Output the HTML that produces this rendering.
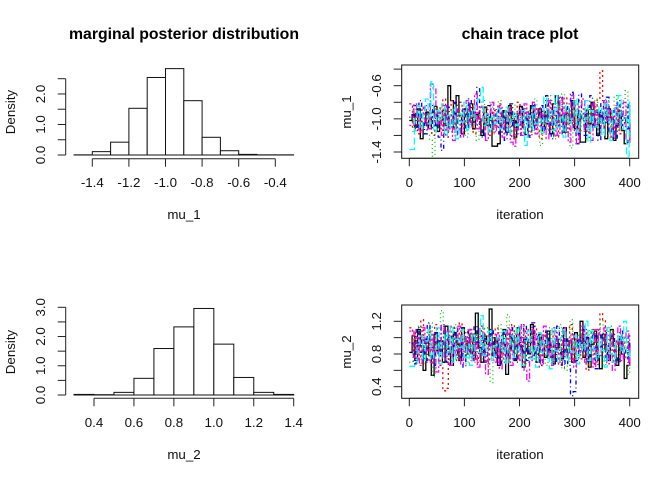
<!DOCTYPE html>
<html>
<head>
<meta charset="utf-8">
<title>MCMC diagnostics</title>
<style>
html,body{margin:0;padding:0;background:#fff;width:672px;height:480px;overflow:hidden}
svg{display:block}
text{font-family:"Liberation Sans",sans-serif;font-size:13.33px;fill:#111}
.t{font-size:15.8px;font-weight:bold;fill:#000}
</style>
</head>
<body>
<svg id="chart" width="672" height="480" viewBox="0 0 672 480" xmlns="http://www.w3.org/2000/svg"></svg>
<script>
const histBreaks1 = [-1.5,-1.4,-1.3,-1.2,-1.1,-1.0,-0.9,-0.8,-0.7,-0.6,-0.5,-0.4,-0.3];
const histDensity1 = [0.005,0.11,0.42,1.53,2.54,2.83,1.78,0.58,0.14,0.02,0.005,0.005];
const histBreaks2 = [0.3,0.4,0.5,0.6,0.7,0.8,0.9,1.0,1.1,1.2,1.3,1.4];
const histDensity2 = [0.02,0.01,0.09,0.57,1.59,2.33,2.96,1.74,0.6,0.09,0.02];
const histXTicks1 = [-1.4,-1.2,-1.0,-0.8,-0.6,-0.4];
const histXTicks2 = [0.4,0.6,0.8,1.0,1.2,1.4];
const histYTicks1 = [0,0.5,1,1.5,2,2.5];
const histYTicks2 = [0,0.5,1,1.5,2,2.5,3];
const traceXTicks = [0,100,200,300,400];
const traceYTicks1 = [-1.4,-1.2,-1.0,-0.8,-0.6,-0.4];
const traceYTicks2 = [0.4,0.6,0.8,1.0,1.2];
const iterationStep = 5;
const chainColors = ["#000000","#ff0000","#00cd00","#0000ff","#ff00ff","#00ffff"];
const chainDashes = ["","2 3","1 3","1 3 4 3","2 2 6 2","7 3"];
const chainNames = ["black","red","green","blue","magenta","cyan"];

const mu1Black = [-1.02,-0.95,-1.10,-0.88,-1.24,-1.05,-0.92,-1.12,-0.98,-0.85,-1.15,-1.02,-0.90,-1.08,-0.60,-0.78,-1.10,-0.72,-0.96,-1.18,-0.88,-1.04,-0.82,-1.12,-0.95,-1.00,-1.20,-0.86,-1.08,-0.98,-1.33,-1.33,-1.30,-1.05,-0.90,-1.16,-0.84,-1.02,-1.22,-0.94,-0.85,-1.10,-1.19,-0.96,-0.84,-1.08,-1.00,-0.88,-1.14,-0.92,-1.06,-1.18,-0.82,-0.72,-1.04,-0.96,-1.16,-0.88,-1.02,-0.78,-1.12,-0.94,-1.28,-1.28,-0.90,-1.06,-0.80,-1.10,-1.20,-0.92,-1.05,-1.24,-0.88,-1.00,-1.26,-1.08,-0.90,-1.14,-1.30,-1.28,-1.00];
const mu1Red = [-0.82,-1.12,-0.90,-1.18,-0.98,-0.84,-1.08,-0.92,-1.20,-1.02,-0.86,-1.14,-0.76,-1.22,-0.96,-0.78,-1.16,-1.00,-0.80,-1.10,-0.88,-1.06,-0.84,-1.18,-0.92,-1.02,-1.14,-0.86,-1.04,-1.20,-0.90,-1.10,-0.82,-1.16,-0.98,-1.08,-0.86,-1.24,-0.94,-0.80,-1.12,-1.00,-0.88,-1.20,-0.94,-0.84,-1.14,-1.24,-0.90,-1.06,-0.78,-1.12,-0.96,-1.22,-0.86,-1.02,-0.74,-1.16,-0.92,-1.08,-0.82,-1.18,-1.00,-0.88,-1.20,-0.94,-0.80,-1.10,-0.76,-0.42,-0.78,-1.04,-1.22,-0.90,-1.12,-0.84,-1.18,-0.96,-1.06,-0.86,-1.10];
const mu1Green = [-0.90,-1.18,-1.02,-0.86,-1.10,-0.94,-1.20,-1.26,-1.45,-1.04,-0.88,-1.12,-0.98,-0.84,-1.16,-0.92,-1.06,-1.24,-0.88,-1.02,-1.22,-0.80,-1.10,-0.94,-1.26,-0.86,-0.78,-1.12,-1.00,-0.80,-1.18,-0.92,-0.78,-1.08,-1.22,-0.90,-1.04,-0.82,-1.14,-0.96,-1.20,-0.84,-1.06,-0.90,-1.16,-0.76,-1.02,-1.32,-0.88,-1.12,-0.72,-1.00,-1.24,-0.80,-1.10,-0.70,-1.18,-0.94,-1.35,-0.86,-1.06,-0.78,-1.14,-0.98,-1.24,-0.84,-1.02,-0.76,-1.20,-0.92,-1.08,-0.74,-1.16,-0.88,-0.72,-1.12,-0.94,-0.78,-0.66,-1.04,-0.82];
const mu1Blue = [-0.98,-0.84,-1.14,-0.78,-1.04,-1.18,-0.90,-0.82,-1.10,-0.96,-1.22,-1.38,-1.00,-0.86,-1.12,-0.94,-0.80,-1.20,-1.02,-0.88,-1.14,-0.76,-1.04,-0.92,-0.62,-1.10,-1.22,-0.96,-0.84,-1.12,-1.02,-0.88,-1.18,-0.92,-1.26,-1.04,-0.82,-1.10,-0.96,-1.20,-0.86,-1.06,-0.92,-1.22,-0.80,-1.12,-0.98,-0.84,-1.16,-0.72,-1.04,-1.24,-0.90,-1.08,-0.74,-1.18,-0.94,-0.82,-0.68,-1.14,-1.30,-0.70,-1.02,-1.20,-0.86,-0.72,-1.10,-0.92,-1.26,-0.80,-1.04,-0.74,-1.18,-0.90,-1.24,-0.78,-1.08,-0.94,-1.12,-0.82,-1.26];
const mu1Magenta = [-1.08,-0.82,-0.98,-1.16,-0.86,-1.04,-1.12,-0.58,-0.64,-1.06,-0.92,-1.20,-0.84,-1.14,-0.96,-1.26,-0.88,-1.02,-1.22,-0.90,-0.78,-1.10,-0.98,-0.70,-1.12,-0.86,-1.04,-1.26,-0.92,-0.80,-1.16,-1.00,-0.84,-1.22,-1.02,-0.88,-1.28,-1.33,-1.12,-0.90,-1.20,-0.82,-1.06,-0.96,-0.80,-1.18,-0.88,-1.10,-0.94,-1.24,-0.78,-1.04,-0.86,-1.20,-0.74,-1.12,-0.92,-1.28,-0.72,-1.06,-1.30,-0.84,-0.76,-1.14,-0.98,-1.26,-0.82,-1.08,-0.94,-1.18,-0.78,-1.02,-0.90,-1.22,-0.84,-1.10,-0.96,-0.80,-1.26,-1.28,-1.12];
const mu1Cyan = [-1.37,-1.00,-0.84,-1.12,-0.92,-0.76,-1.06,-0.55,-1.16,-0.90,-1.02,-0.82,-1.20,-0.96,-1.10,-0.86,-1.24,-0.94,-1.04,-0.80,-1.14,-0.90,-1.00,-0.84,-0.76,-0.62,-1.08,-0.94,-1.16,-0.98,-1.06,-0.88,-1.12,-1.00,-0.86,-1.18,-1.00,-0.92,-1.08,-1.02,-0.90,-1.32,-0.96,-1.12,-0.86,-1.06,-1.00,-1.18,-0.74,-1.04,-0.90,-1.14,-0.72,-1.10,-0.96,-1.22,-0.84,-1.06,-1.00,-0.76,-1.16,-0.92,-1.04,-0.78,-1.28,-0.90,-1.10,-1.08,-0.86,-1.20,-0.82,-1.00,-1.26,-0.88,-1.04,-0.72,-1.12,-0.96,-1.45,-0.80,-1.06];

const mu2Black = [0.82,1.02,0.72,1.10,0.90,0.60,0.98,0.78,0.54,1.04,0.84,0.96,0.70,1.14,0.86,0.66,1.06,0.92,0.72,1.12,0.96,0.80,1.04,0.74,1.30,0.88,0.70,1.02,0.92,1.35,0.78,1.00,0.66,0.94,1.10,0.55,0.86,1.02,0.72,1.12,0.90,0.64,0.98,0.80,1.16,0.86,0.70,1.04,0.92,0.76,1.08,0.84,0.68,0.98,0.88,0.74,1.12,0.82,0.96,0.70,1.06,0.90,1.20,0.76,1.00,0.64,0.92,1.08,0.78,0.62,1.04,0.86,0.72,1.10,0.90,0.66,0.98,0.80,0.50,0.66,0.94];
const mu2Red = [1.12,0.84,1.06,0.74,1.22,0.94,0.70,1.08,0.82,1.16,0.90,0.66,0.35,0.38,0.82,1.14,0.92,0.72,1.18,0.98,0.78,1.10,0.86,1.04,0.70,0.96,1.14,0.82,0.68,1.02,0.90,1.12,0.76,0.94,0.70,1.06,0.84,1.16,0.92,0.72,1.00,0.66,1.10,0.86,0.76,1.14,0.94,0.64,1.04,0.82,0.96,0.72,1.12,0.88,0.66,1.02,0.78,0.92,1.16,0.70,0.98,0.84,0.74,1.08,0.60,0.94,1.10,0.68,1.00,1.30,1.22,0.76,0.90,1.08,0.70,0.96,0.84,1.02,0.74,0.92,0.86];
const mu2Green = [0.70,0.98,0.86,1.14,0.68,1.02,0.78,1.18,0.52,0.94,0.80,1.33,0.84,1.06,0.72,0.96,1.16,0.76,0.90,1.02,0.68,1.10,0.84,0.70,1.04,0.92,0.74,1.12,0.64,0.45,1.00,0.82,1.16,0.72,0.94,1.28,0.70,1.08,0.88,0.76,1.14,0.86,0.68,0.98,1.10,0.74,0.92,1.04,0.80,0.66,1.12,0.88,0.72,1.00,1.16,0.62,0.84,0.60,1.22,0.92,0.72,1.06,0.80,0.96,0.68,1.10,0.84,0.72,1.02,1.22,0.66,0.90,1.14,0.78,0.94,0.70,1.08,0.86,1.00,0.55,0.92];
const mu2Blue = [0.94,0.68,1.12,0.82,1.00,0.72,1.18,0.88,0.66,1.06,0.78,1.14,0.92,0.70,1.02,0.84,1.12,0.74,0.96,0.64,1.08,0.86,0.72,1.14,0.94,0.80,1.04,0.70,0.90,1.10,0.76,0.98,0.68,1.06,0.84,0.74,1.12,0.92,0.70,1.00,0.80,1.16,0.72,0.94,1.18,0.78,1.04,0.66,0.90,1.08,0.76,0.96,0.70,1.14,0.84,0.64,1.02,0.66,0.29,0.34,0.72,1.00,0.84,1.10,0.70,0.96,1.06,0.62,1.06,0.88,1.06,0.72,0.96,1.04,0.78,0.68,1.08,0.86,0.74,1.02,0.84];
const mu2Magenta = [1.08,0.76,1.00,0.66,1.12,0.84,0.96,0.70,1.04,0.58,0.90,1.16,0.74,1.08,0.66,0.92,0.78,1.14,0.68,1.00,0.84,1.10,0.72,0.94,0.64,1.12,0.80,0.55,1.02,0.88,0.70,1.06,0.62,0.96,0.76,1.12,0.66,0.90,1.04,0.74,1.16,0.60,0.47,0.72,1.10,0.86,1.00,0.68,1.14,0.78,0.94,0.66,1.08,0.82,0.70,1.12,0.92,0.74,1.04,0.64,0.98,0.82,1.14,0.70,1.02,0.86,0.64,1.10,0.78,0.96,1.12,0.68,1.04,0.60,0.92,1.14,0.72,1.00,1.08,0.66,0.88];
const mu2Cyan = [0.65,0.66,0.92,1.02,0.72,0.96,1.10,0.74,0.86,1.12,0.68,0.94,1.06,0.78,1.14,0.70,0.98,0.88,1.10,0.76,0.92,0.66,1.04,0.84,0.82,1.27,0.78,0.96,1.08,0.72,0.90,1.00,0.84,1.08,0.68,0.92,1.02,0.76,1.14,0.84,0.66,0.96,1.08,0.74,0.90,0.64,1.06,0.82,0.98,0.78,0.62,1.12,0.84,0.70,1.00,1.10,0.72,0.88,0.82,1.02,0.68,0.94,0.84,1.20,0.72,1.08,0.86,0.74,0.98,0.84,0.64,1.12,0.80,0.70,0.96,1.04,0.82,1.20,0.78,0.84,0.76];

const mu1Chains = [mu1Black,mu1Red,mu1Green,mu1Blue,mu1Magenta,mu1Cyan];
const mu2Chains = [mu2Black,mu2Red,mu2Green,mu2Blue,mu2Magenta,mu2Cyan];

const NS = "http://www.w3.org/2000/svg";
const root = document.getElementById("chart");

function add(parent, tag, attrs, txt){
  const el = document.createElementNS(NS, tag);
  for (const k in attrs) el.setAttribute(k, attrs[k]);
  if (txt !== undefined) el.textContent = txt;
  parent.appendChild(el);
  return el;
}
function makeGroup(name){
  const g = document.createElementNS(NS, "g");
  
  
  root.appendChild(g);
  return g;
}
function label(parent, name, x, y, str, rot, cls){
  const attrs = {x:x, y:y, "text-anchor":"middle"};
  if (rot) attrs.transform = "rotate(-90 " + x + " " + y + ")";
  if (cls) attrs["class"] = cls;
  const el = add(parent, "text", attrs, str);
  
  
  return el;
}
function axisLine(parent, name, x1, y1, x2, y2){
  const el = add(parent, "line", {x1:x1, y1:y1, x2:x2, y2:y2, stroke:"#222", "stroke-width":1});
  
  
  return el;
}
function scale(d0, d1, r0, r1){
  return function(v){ return r0 + (v - d0) * (r1 - r0) / (d1 - d0); };
}

function drawHist(cfg){
  const g = makeGroup(cfg.name);
  const sx = scale(cfg.xd[0], cfg.xd[1], cfg.xr[0], cfg.xr[1]);
  const sy = scale(0, cfg.yd, cfg.y0, cfg.y1);
  cfg.density.forEach(function(d, i){
    const top = sy(d);
    const r = add(g, "rect", {x:sx(cfg.breaks[i]), y:top, width:sx(cfg.breaks[i+1]) - sx(cfg.breaks[i]), height:cfg.y0 - top, fill:"#fff", stroke:"#111", "stroke-width":1});
    
    
  });
  const xt = cfg.xTicks;
  axisLine(g, "x-axis-line", sx(xt[0]), cfg.xAxisY, sx(xt[xt.length-1]), cfg.xAxisY);
  xt.forEach(function(t){
    axisLine(g, "x-axis-tick", sx(t), cfg.xAxisY, sx(t), cfg.xAxisY + 8);
    label(g, "x-tick-label", sx(t), cfg.xLabelY, t.toFixed(1), false);
  });
  const yt = cfg.yTicks;
  axisLine(g, "y-axis-line", 65.7, sy(yt[0]), 65.7, sy(yt[yt.length-1]));
  yt.forEach(function(t, i){
    axisLine(g, "y-axis-tick", 57.7, sy(t), 65.7, sy(t));
    if (i % 2 === 0) label(g, "y-tick-label", 45, sy(t), t.toFixed(1), true);
  });
  label(g, "x-axis-title", 184, cfg.xTitleY, cfg.xTitle, false);
  label(g, "y-axis-title", 15, cfg.yTitleC, "Density", true);
  if (cfg.title) label(g, "plot-title", 184, 39, cfg.title, false, "t");
}

function drawTrace(cfg){
  const g = makeGroup(cfg.name);
  const sx = scale(0, 400, 409.3, 629.7);
  const sy = scale(cfg.yRef[0], cfg.yRef[1], cfg.yPix[0], cfg.yPix[1]);
  cfg.chains.forEach(function(vals, c){
    const offset = c * iterationStep / cfg.chains.length;
    const seg = [];
    vals.forEach(function(v, i){
      const a = Math.min(400, i * iterationStep + (i === 0 ? 0 : offset));
      const b = Math.min(400, (i + 1) * iterationStep + offset);
      seg.push(sx(a).toFixed(1) + "," + sy(v).toFixed(1));
      seg.push(sx(b).toFixed(1) + "," + sy(v).toFixed(1));
    });
    const attrs = {points:seg.join(" "), fill:"none", stroke:chainColors[c], "stroke-width":1.3};
    if (chainDashes[c]) attrs["stroke-dasharray"] = chainDashes[c];
    const p = add(g, "polyline", attrs);
    
    
  });
  const box = add(g, "rect", {x:401.7, y:cfg.boxTop, width:237, height:cfg.boxBottom - cfg.boxTop, fill:"none", stroke:"#111", "stroke-width":1});
  
  
  axisLine(g, "x-axis-line", sx(traceXTicks[0]), cfg.boxBottom, sx(traceXTicks[traceXTicks.length-1]), cfg.boxBottom);
  traceXTicks.forEach(function(t){
    axisLine(g, "x-axis-tick", sx(t), cfg.boxBottom, sx(t), cfg.boxBottom + 8);
    label(g, "x-tick-label", sx(t), cfg.xLabelY, String(t), false);
  });
  cfg.yTicks.forEach(function(t, i){
    axisLine(g, "y-axis-tick", 393.7, sy(t), 401.7, sy(t));
    if (i % 2 === 0) label(g, "y-tick-label", 381, sy(t), t.toFixed(1), true);
  });
  label(g, "x-axis-title", 520, cfg.xTitleY, "iteration", false);
  label(g, "y-axis-title", 351, cfg.yTitleC, cfg.yTitle, true);
  if (cfg.title) label(g, "plot-title", 520, 39, cfg.title, false, "t");
}

drawHist({name:"mu-1-histogram", breaks:histBreaks1, density:histDensity1, xd:[-1.4,-0.4], xr:[92.3,275.3], yd:2.5, y0:155, y1:78.7, xTicks:histXTicks1, yTicks:histYTicks1, xAxisY:158.7, xLabelY:187, xTitle:"mu_1", xTitleY:219, yTitleC:112, title:"marginal posterior distribution"});
drawHist({name:"mu-2-histogram", breaks:histBreaks2, density:histDensity2, xd:[0.4,1.4], xr:[94,293.7], yd:3, y0:395, y1:307.3, xTicks:histXTicks2, yTicks:histYTicks2, xAxisY:398.3, xLabelY:427, xTitle:"mu_2", xTitleY:459, yTitleC:352});
drawTrace({name:"mu-1-trace-plot", chains:mu1Chains, yRef:[-1.4,-0.6], yPix:[152,85.7], yTicks:traceYTicks1, boxTop:65, boxBottom:158.3, xLabelY:187, xTitleY:219, yTitle:"mu_1", yTitleC:112, title:"chain trace plot"});
drawTrace({name:"mu-2-trace-plot", chains:mu2Chains, yRef:[0.4,1.2], yPix:[386.7,321.3], yTicks:traceYTicks2, boxTop:305, boxBottom:398.3, xLabelY:427, xTitleY:459, yTitle:"mu_2", yTitleC:352});
</script>
</body>
</html>
